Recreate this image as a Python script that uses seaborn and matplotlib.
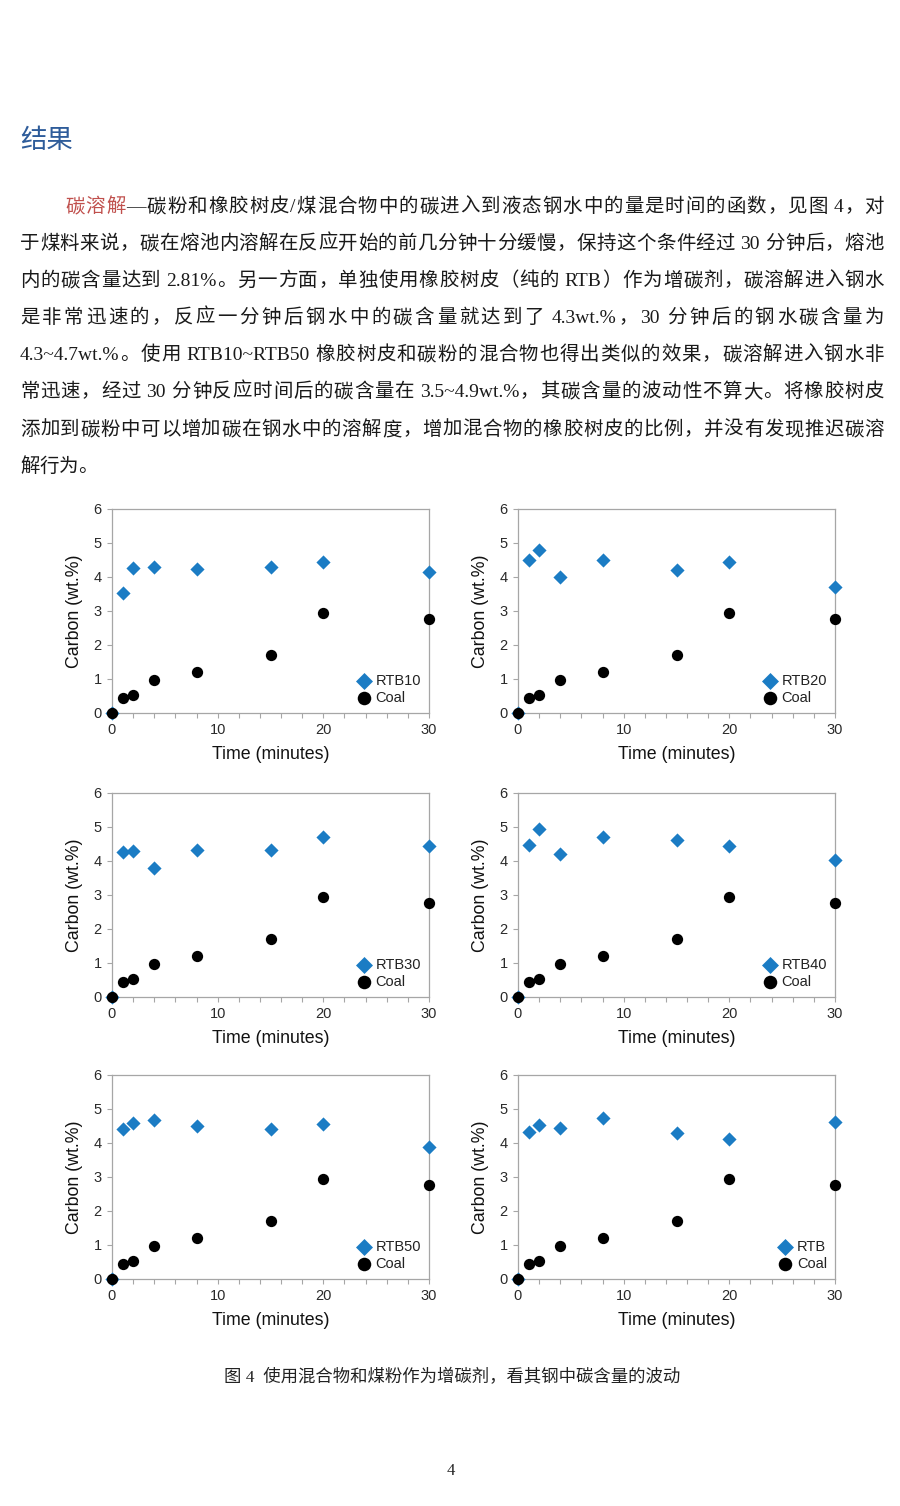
import re
import matplotlib
matplotlib.use("Agg")
import matplotlib.pyplot as plt
import seaborn as sns
import pandas as pd

# data
time_min = [0, 1, 2, 4, 8, 15, 20, 30]
coal = [0, 0.44, 0.52, 0.97, 1.22, 1.71, 2.95, 2.77]
rtb10 = [0, 3.54, 4.26, 4.30, 4.24, 4.28, 4.43, 4.15]
rtb20 = [0, 4.50, 4.79, 4.00, 4.49, 4.21, 4.43, 3.71]
rtb30 = [0, 4.26, 4.29, 3.80, 4.32, 4.31, 4.72, 4.43]
rtb40 = [0, 4.46, 4.93, 4.22, 4.70, 4.62, 4.45, 4.04]
rtb50 = [0, 4.42, 4.60, 4.68, 4.49, 4.41, 4.57, 3.89]
rtb = [0, 4.31, 4.53, 4.43, 4.75, 4.29, 4.11, 4.61]
series_names = ["RTB10", "RTB20", "RTB30", "RTB40", "RTB50", "RTB"]
series_vals = [rtb10, rtb20, rtb30, rtb40, rtb50, rtb]

heading = "结果"
red_word = "碳溶解"
body_lines = [
    "—碳粉和橡胶树皮/煤混合物中的碳进入到液态钢水中的量是时间的函数，见图 4，对",
    "于煤料来说，碳在熔池内溶解在反应开始的前几分钟十分缓慢，保持这个条件经过 30 分钟后，熔池",
    "内的碳含量达到 2.81%。另一方面，单独使用橡胶树皮（纯的 RTB）作为增碳剂，碳溶解进入钢水",
    "是非常迅速的，反应一分钟后钢水中的碳含量就达到了 4.3wt.%，30 分钟后的钢水碳含量为",
    "4.3~4.7wt.%。使用 RTB10~RTB50 橡胶树皮和碳粉的混合物也得出类似的效果，碳溶解进入钢水非",
    "常迅速，经过 30 分钟反应时间后的碳含量在 3.5~4.9wt.%，其碳含量的波动性不算大。将橡胶树皮",
    "添加到碳粉中可以增加碳在钢水中的溶解度，增加混合物的橡胶树皮的比例，并没有发现推迟碳溶",
    "解行为。",
]
caption = "图 4  使用混合物和煤粉作为增碳剂，看其钢中碳含量的波动"

BLUE = "#1B7CC4"
RED = "#C0504D"
HEAD = "#2E5C9A"
TEXT_FONT = ["Liberation Serif", "Noto Sans CJK SC"]
CJK_FONT = ["Noto Sans CJK SC", "DejaVu Sans"]

sns.set_theme(style="white")
plt.rcParams["font.family"] = ["Liberation Sans", "DejaVu Sans"]

W, H = 900, 1506
fig = plt.figure(figsize=(9, 15.06), dpi=100)
fig.patch.set_facecolor("white")
renderer = fig.canvas.get_renderer()


def fx(x):
    return x / W


def fy(y):
    return 1 - y / H


# ---- text block ----
fig.text(fx(20), fy(141), heading, fontsize=19, color=HEAD, va="center",
         family=CJK_FONT)

token_re = re.compile(r"[A-Za-z0-9.%~]+|\s|.")
body_size = 14


def draw_line(segments, x0, x1, y, justify=True):
    tokens = []
    spaces = 0
    for s, color in segments:
        for tok in token_re.findall(s):
            if tok.isspace():
                spaces += 1
                continue
            tokens.append([tok, color, spaces])
            spaces = 0
    arts, widths = [], []
    for tok, color, _ in tokens:
        t = fig.text(0, fy(y), tok, fontsize=body_size, color=color,
                     family=TEXT_FONT, va="baseline", ha="left")
        arts.append(t)
        widths.append(t.get_window_extent(renderer).width)
    space_w = body_size * 100 / 72 * 0.25
    total = sum(widths) + sum(tk[2] for tk in tokens) * space_w
    gap = (x1 - x0 - total) / (len(tokens) - 1) if justify else 0
    x = x0
    for i, (t, w, tk) in enumerate(zip(arts, widths, tokens)):
        if i > 0:
            x += gap
        x += tk[2] * space_w
        t.set_x(fx(x))
        x += w


line_y = [205, 242, 279, 316, 353, 390, 428, 465]
for i, line in enumerate(body_lines):
    base = line_y[i] + 7
    if i == 0:
        draw_line([(red_word, RED), (line, "#1a1a1a")], 65, 884, base)
    else:
        draw_line([(line, "#1a1a1a")], 20, 884, base,
                  justify=(i < len(body_lines) - 1))

# ---- scatter panels ----
col_left = [112, 518]
row_bottom = [713, 997, 1279]
ax_w, ax_h = 317, 204

for k, (name, vals) in enumerate(zip(series_names, series_vals)):
    r, c = divmod(k, 2)
    ax = fig.add_axes([fx(col_left[c]), fy(row_bottom[r]), ax_w / W, ax_h / H])
    df = pd.DataFrame({"time": time_min, name: vals, "Coal": coal})
    sns.scatterplot(data=df, x="time", y=name, ax=ax, marker="D", color=BLUE,
                    s=52, linewidth=0, label=name, clip_on=False, zorder=3)
    sns.scatterplot(data=df, x="time", y="Coal", ax=ax, marker="o", color="black",
                    s=66, linewidth=0, label="Coal", clip_on=False, zorder=4)
    ax.set_xlim(0, 30)
    ax.set_ylim(0, 6)
    ticks = list(range(0, 31, 2))
    ax.set_xticks(ticks)
    ax.set_xticklabels([str(t) if t % 10 == 0 else "" for t in ticks])
    ax.set_yticks(range(0, 7))
    ax.tick_params(axis="both", direction="out", length=3.5, width=0.8,
                   color="#A6A6A6", labelsize=10.5, labelcolor="#2a2a2a",
                   bottom=True, left=True)
    ax.tick_params(axis="y", pad=4)
    ax.tick_params(axis="x", pad=4)
    for sp in ax.spines.values():
        sp.set_color("#A6A6A6")
        sp.set_linewidth(0.9)
    ax.set_xlabel("Time (minutes)", fontsize=12.8, color="#111111")
    ax.set_ylabel("Carbon (wt.%)", fontsize=12.8, color="#111111")
    ax.xaxis.set_label_coords(0.5, -0.16)
    ax.yaxis.set_label_coords(-0.09, 0.5)
    ax.legend(loc="lower right", bbox_to_anchor=(1.0, 0.0), frameon=False,
              fontsize=10.5, handletextpad=0.2, handlelength=1.2,
              markerscale=1.2, labelspacing=0.22, borderaxespad=0.25,
              borderpad=0.3, labelcolor="#222222")

fig.text(fx(452), fy(1378), caption, fontsize=12.5, color="#222222",
         ha="center", va="center", family=TEXT_FONT)
fig.text(fx(451), fy(1471), "4", fontsize=12, color="#222222",
         ha="center", va="center", family=TEXT_FONT)

fig.savefig("out.png", dpi=100, facecolor="white")
